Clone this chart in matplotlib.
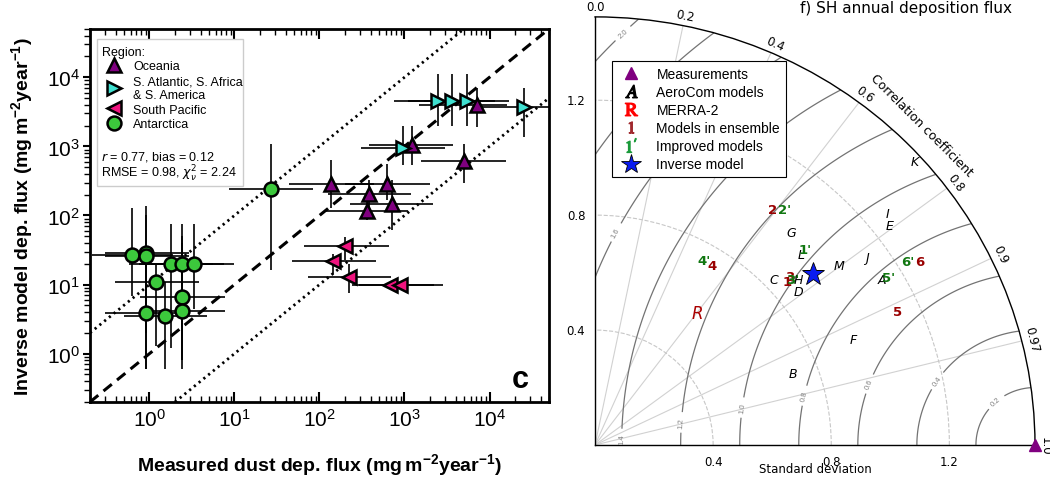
import numpy as np
import matplotlib
matplotlib.use('Agg')
import matplotlib.pyplot as plt
from matplotlib.lines import Line2D
from matplotlib.patches import Rectangle

plt.rcParams['font.family'] = ['Liberation Sans', 'DejaVu Sans']

# ---------------- panel c: measured vs inverse model flux ----------------
oce_x = [137, 385, 617, 359, 716, 1210, 4990, 7100]
oce_y = [284, 206, 284, 118, 148, 1050, 622, 3990]
oce_xlo = [44, 127, 200, 117, 230, 385, 1550, 1500]
oce_xhi = [440, 1200, 2000, 1100, 2150, 3700, 15500, 16000]
oce_ylo = [127, 100, 170, 85, 62, 530, 300, 1900]
oce_yhi = [640, 330, 560, 160, 330, 2000, 1100, 7000]

atl_x = [2460, 3590, 5440, 25500, 955]
atl_y = [4470, 4470, 4560, 3660, 944]
atl_xlo = [760, 1100, 1700, 8000, 310]
atl_xhi = [8000, 11500, 17000, 80000, 3000]
atl_ylo = [2000, 2000, 2000, 1350, 530]
atl_yhi = [11000, 11000, 11000, 7000, 2000]

pac_x = [200, 144, 221, 684, 890]
pac_y = [35.8, 21.8, 13, 9.9, 9.9]
pac_xlo = [65, 48, 73, 240, 290]
pac_xhi = [650, 460, 690, 2200, 2800]
pac_ylo = [23, 14, 7.6, 9.0, 9.0]
pac_yhi = [49, 28, 20, 10.9, 10.9]

ant_x = [0.62, 0.92, 0.92, 1.8, 2.4, 3.3, 1.2, 2.4, 0.92, 1.53, 2.4, 26.6]
ant_y = [27, 28.5, 26, 20, 20, 20, 11, 6.6, 3.9, 3.5, 4.1, 244]
ant_xlo = [0.21, 0.3, 0.3, 0.57, 0.75, 1.05, 0.39, 0.77, 0.3, 0.5, 0.77, 8.7]
ant_xhi = [1.9, 2.9, 2.9, 5.6, 7.5, 10, 3.8, 7.7, 2.9, 4.7, 7.7, 85]
ant_ylo = [6.9, 0.6, 2, 1.2, 0.6, 4.5, 1.3, 0.8, 0.6, 0.6, 0.8, 16]
ant_yhi = [130, 135, 100, 76, 76, 76, 20, 50, 30, 11, 40, 1100]

regions = [
    ('Oceania', '^', '#800080', oce_x, oce_y, oce_xlo, oce_xhi, oce_ylo, oce_yhi),
    ('S. Atlantic, S. Africa\n& S. America', '>', '#40E0D0', atl_x, atl_y, atl_xlo, atl_xhi, atl_ylo, atl_yhi),
    ('South Pacific', '<', '#F0147F', pac_x, pac_y, pac_xlo, pac_xhi, pac_ylo, pac_yhi),
    ('Antarctica', 'o', '#3CC83C', ant_x, ant_y, ant_xlo, ant_xhi, ant_ylo, ant_yhi),
]

# ---------------- panel f: Taylor diagram ----------------
ref_std = 1.49
corr_ticks = [0.0, 0.2, 0.4, 0.6, 0.8, 0.9, 0.97, 1.0]
std_ticks = [0.4, 0.8, 1.2]
rms_levels = [0.2, 0.4, 0.6, 0.8, 1.0, 1.2, 1.4, 1.6, 1.8, 2.0]
# where the rms contour labels sit (correlation, std)
rms_label_corr = [0.994, 0.982, 0.975, 0.972, 0.967, 0.966, 0.974, 0.091, 0.061]
rms_label_std = [1.367, 1.181, 0.954, 0.730, 0.513, 0.304, 0.092, 0.745, 1.442]

aero_names = ['A', 'B', 'C', 'D', 'E', 'F', 'G', 'H', 'I', 'J', 'K', 'L', 'M']
aero_corr = [0.860, 0.938, 0.725, 0.791, 0.794, 0.922, 0.669, 0.768, 0.776, 0.816, 0.739, 0.725, 0.798]
aero_std = [1.128, 0.714, 0.835, 0.872, 1.255, 0.950, 0.995, 0.898, 1.277, 1.127, 1.464, 0.961, 1.034]

ens_names = ['1', '2', '3', '4', '5', '6']
ens_corr = [0.752, 0.592, 0.748, 0.535, 0.911, 0.865]
ens_std = [0.863, 1.016, 0.881, 0.739, 1.124, 1.271]

imp_names = ["1'", "2'", "3'", "4'", "5'", "6'"]
imp_corr = [0.724, 0.617, 0.759, 0.498, 0.863, 0.856]
imp_std = [0.985, 1.040, 0.882, 0.739, 1.152, 1.236]

merra_corr, merra_std = 0.603, 0.577
inv_corr, inv_std = 0.778, 0.948


fig = plt.figure(figsize=(10.5, 4.81), dpi=100)

# ---- left panel
ax = fig.add_axes([0.0857, 0.1622, 0.4371, 0.7755])
ax.set_xscale('log')
ax.set_yscale('log')
ax.set_xlim(0.2, 5e4)
ax.set_ylim(0.2, 5e4)

ax.axline((1, 1), (10, 10), color='k', ls=(0, (3.5, 2.2)), lw=2.2, zorder=1)
ax.axline((1, 10), (10, 100), color='k', ls=(0, (0.8, 1.4)), lw=2.0, zorder=1)
ax.axline((1, 0.1), (10, 1), color='k', ls=(0, (0.8, 1.4)), lw=2.0, zorder=1)

handles = []
for name, mk, col, x, y, xlo, xhi, ylo, yhi in regions:
    x, y = np.array(x), np.array(y)
    xerr = [x - np.array(xlo), np.array(xhi) - x]
    yerr = [y - np.array(ylo), np.array(yhi) - y]
    ax.errorbar(x, y, xerr=xerr, yerr=yerr, fmt='none', ecolor='k', elinewidth=1.2, zorder=2)
    ax.plot(x, y, ls='none', marker=mk, ms=10, mfc=col, mec='k', mew=1.8, zorder=3)
    handles.append(Line2D([], [], ls='none', marker=mk, ms=10, mfc=col, mec='k', mew=1.8, label=name))

ax.add_patch(Rectangle((0.015, 0.58), 0.318, 0.393, transform=ax.transAxes,
                       fill=True, facecolor='white', edgecolor='0.8', lw=1, zorder=4))
leg = ax.legend(handles=handles, title='Region:', loc='upper left', bbox_to_anchor=(0.02, 0.962),
                frameon=False, fontsize=9, title_fontsize=9, alignment='left',
                labelspacing=0.22, handletextpad=0.5, borderpad=0.2, borderaxespad=0)
leg.set_zorder(5)
ax.text(0.024, 0.66, r'$r$ = 0.77, bias = 0.12', transform=ax.transAxes, fontsize=9,
        va='center', zorder=6, math_fontfamily='dejavusans')
ax.text(0.024, 0.613, r'RMSE = 0.98, $\chi^2_\nu$ = 2.24', transform=ax.transAxes, fontsize=9,
        va='center', zorder=6, math_fontfamily='dejavusans')
ax.text(0.937, 0.062, 'c', transform=ax.transAxes, fontsize=22, fontweight='bold',
        ha='center', va='center')

ax.set_xlabel(r'Measured dust dep. flux (mg$\,$m$^{\mathregular{-2}}$year$^{\mathregular{-1}}$)',
              fontsize=14, fontweight='bold', labelpad=16)
ax.set_ylabel(r'Inverse model dep. flux (mg$\,$m$^{\mathregular{-2}}$year$^{\mathregular{-1}}$)',
              fontsize=14, fontweight='bold', labelpad=8)
ax.tick_params(axis='both', which='major', labelsize=15, width=1.5)
ax.tick_params(axis='x', which='both', direction='in', top=True, pad=4)
ax.tick_params(axis='y', which='both', direction='out', pad=2)
ax.tick_params(axis='x', which='major', length=7)
ax.tick_params(axis='y', which='major', length=5)
ax.tick_params(which='minor', length=4, width=1)
for sp in ax.spines.values():
    sp.set_linewidth(2)

# ---- right panel: Taylor diagram on a quarter polar axes
tx = fig.add_axes([0.5667, 0.0728, 0.419, 0.890], projection='polar')
tx.set_thetamin(0)
tx.set_thetamax(90)
tx.set_aspect('auto')
tx.set_rlim(0, ref_std)

tx.set_thetagrids(np.degrees(np.arccos(corr_ticks)),
                  labels=[f'{c:g}' if c not in (0, 1) else f'{c:.1f}' for c in corr_ticks])
tx.set_rgrids(std_ticks, labels=[f'{s:.1f}' for s in std_ticks])
tx.tick_params(axis='x', labelrotation='auto', labelsize=8.5, pad=-3, labelfontfamily='DejaVu Sans')
tx.tick_params(axis='y', labelsize=8.5, labelleft=True, labelright=True, labelfontfamily='DejaVu Sans')
tx.xaxis.grid(True, color='0.82', lw=0.8, ls='-')
tx.yaxis.grid(True, color='0.78', lw=0.8, ls='--')
for sp in tx.spines.values():
    sp.set_linewidth(1)
    sp.set_color('k')

rr, tt = np.meshgrid(np.linspace(0, ref_std, 300), np.linspace(0, np.pi / 2, 300))
rms = np.sqrt(ref_std ** 2 + rr ** 2 - 2 * ref_std * rr * np.cos(tt))
cs = tx.contour(tt, rr, rms, levels=rms_levels, colors='0.45', linewidths=0.9)
tx.clabel(cs, fontsize=5.5, fmt='%.1f', colors='0.5',
          manual=list(zip(np.arccos(rms_label_corr), rms_label_std)))

for n, c, s in zip(aero_names, aero_corr, aero_std):
    tx.text(np.arccos(c), s, n, ha='center', va='center', fontsize=9, style='italic',
            family='DejaVu Sans', color='k')
for n, c, s in zip(ens_names, ens_corr, ens_std):
    tx.text(np.arccos(c), s, n, ha='center', va='center', fontsize=9.5, fontweight='bold',
            family='DejaVu Sans', color='#990000')
for n, c, s in zip(imp_names, imp_corr, imp_std):
    tx.text(np.arccos(c), s, n, ha='center', va='center', fontsize=9.5, fontweight='bold',
            family='DejaVu Sans', color='#117711')
tx.text(np.arccos(merra_corr), merra_std, 'R', ha='center', va='center', fontsize=12,
        style='italic', family='DejaVu Sans', color='#aa0000')
tx.plot(np.arccos(inv_corr), inv_std, ls='none', marker='*', ms=17, mfc='#0a1cf0', mec='k',
        mew=0.6, zorder=5)
tx.plot(0, ref_std, ls='none', marker='^', ms=9, color='#800080', clip_on=False, zorder=6)

tx.text(np.radians(45.3), 1.57, 'Correlation coefficient', rotation=-45, ha='center',
        va='center', fontsize=9, family='DejaVu Sans')
tx.text(0.5, -0.055, 'Standard deviation', transform=tx.transAxes, ha='center', va='center',
        fontsize=8.5, family='DejaVu Sans')

with plt.rc_context({'mathtext.fontset': 'stix'}):
    t_handles = [
        Line2D([], [], ls='none', marker='^', color='#800080', ms=9),
        Line2D([], [], ls='none', marker='$A$', color='k', ms=9),
        Line2D([], [], ls='none', marker=r'$\mathrm{R}$', color='red', ms=9),
        Line2D([], [], ls='none', marker=r'$\mathrm{1}$', color='#a0282d', ms=8),
        Line2D([], [], ls='none', marker=r"$\mathrm{1'}$", color='#1a9a3a', ms=10),
        Line2D([], [], ls='none', marker='*', mfc='#0a1cf0', mec='k', mew=0.6, ms=15),
    ]
    t_labels = ['Measurements', 'AeroCom models', 'MERRA-2', 'Models in ensemble',
                'Improved models', 'Inverse model']
    tleg = tx.legend(t_handles, t_labels, loc='upper left', bbox_to_anchor=(612 / 1050, 1 - 62 / 481),
                     bbox_transform=fig.transFigure, fontsize=10, labelspacing=0.3,
                     handletextpad=0.8, borderpad=0.4, fancybox=False, framealpha=1,
                     edgecolor='k', borderaxespad=0)
    tleg.get_frame().set_linewidth(0.8)

fig.text(906 / 1050, 1 - 9 / 481, 'f) SH annual deposition flux', ha='center', va='center',
         fontsize=11, family='DejaVu Sans')

fig.savefig('out.png', dpi=100)
